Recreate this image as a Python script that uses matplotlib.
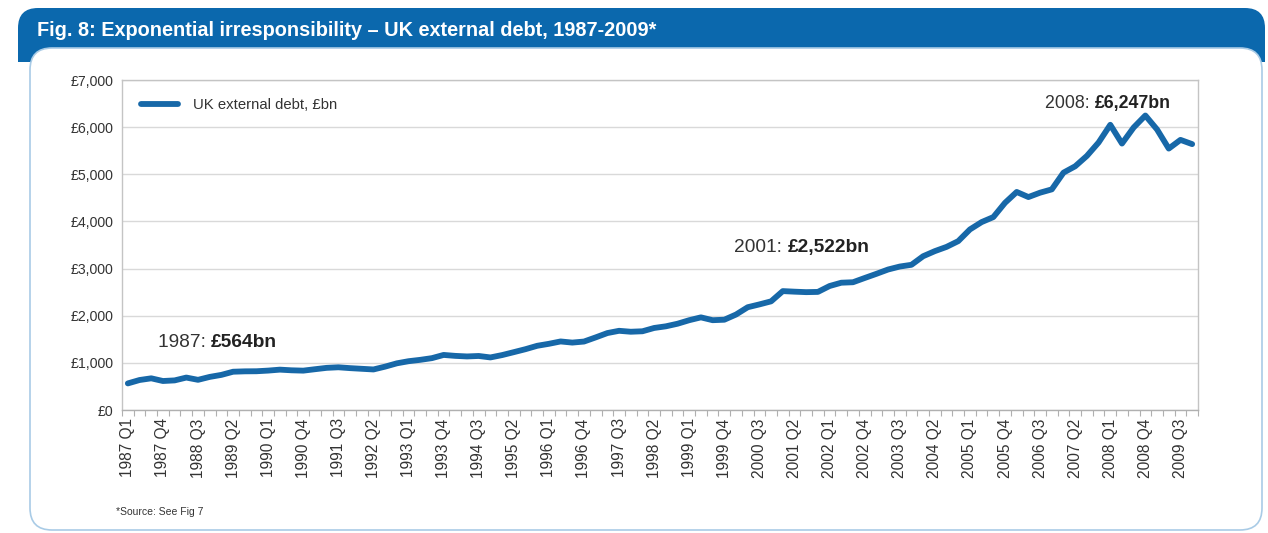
import matplotlib
matplotlib.use("Agg")
import matplotlib.pyplot as plt
from matplotlib.patches import FancyBboxPatch, Rectangle
import matplotlib.ticker as mticker

# Quarterly UK external debt, £bn, 1987 Q1 - 2009 Q4
years = list(range(1987, 2010))
quarters = [f"{y} Q{q}" for y in years for q in range(1, 5)]
debt = [
    564, 636, 672, 615, 628, 688, 640, 702, 745, 812,
    820, 822, 836, 856, 842, 835, 865, 894, 906, 888,
    874, 860, 920, 990, 1035, 1064, 1100, 1168, 1148, 1136,
    1146, 1115, 1165, 1227, 1290, 1362, 1404, 1454, 1430, 1452,
    1540, 1632, 1680, 1660, 1670, 1740, 1775, 1830, 1905, 1965,
    1905, 1915, 2025, 2180, 2240, 2305, 2522, 2510, 2500, 2505,
    2630, 2700, 2710, 2800, 2888, 2980, 3043, 3080, 3262, 3370,
    3460, 3582, 3830, 3986, 4092, 4395, 4625, 4517, 4610, 4680,
    5035, 5170, 5390, 5674, 6050, 5652, 5993, 6247, 5950, 5545,
    5730, 5640,
]
y_ticks = [0, 1000, 2000, 3000, 4000, 5000, 6000, 7000]
callouts = [("1987: ", "£564bn", 0), ("2001: ", "£2,522bn", 56), ("2008: ", "£6,247bn", 87)]
callout_pos = [(7.1, 1430, 13.8), (56.4, 3450, 13.8), (82.65, 6510, 12.8)]

title = "Fig. 8: Exponential irresponsibility \u2013 UK external debt, 1987-2009*"
series_name = "UK external debt, £bn"
source_note = "*Source: See Fig 7"

BLUE = "#0b68ad"
LINE = "#1768a8"
TEXT = "#333333"
GRID = "#d9d9d9"
FONT = ["Liberation Sans", "DejaVu Sans"]

W, H = 1268, 533
fig = plt.figure(figsize=(W / 100, H / 100), dpi=100)
fig.patch.set_facecolor("white")

# Frame: blue title bar and rounded white panel, in pixel units
bg = fig.add_axes([0, 0, 1, 1], zorder=0)
bg.set_xlim(0, W)
bg.set_ylim(H, 0)
bg.axis("off")
bg.add_patch(FancyBboxPatch((18, 8), 1247, 54, boxstyle="round,pad=0,rounding_size=20",
                            facecolor=BLUE, edgecolor="none"))
bg.add_patch(Rectangle((18, 35), 1247, 27, facecolor=BLUE, edgecolor="none"))
bg.add_patch(FancyBboxPatch((30, 48), 1232, 482, boxstyle="round,pad=0,rounding_size=22",
                            facecolor="white", edgecolor="#a9cbe6", linewidth=1.2))
bg.text(37, 30, title, color="white", fontsize=14.3, fontweight="bold",
        family=FONT, va="center", ha="left")
bg.text(116, 512, source_note, color=TEXT, fontsize=7.5, family=FONT,
        va="center", ha="left")

# Chart
left, right, top, bottom = 122, 1198, 80, 410
ax = fig.add_axes([left / W, 1 - bottom / H, (right - left) / W, (bottom - top) / H], zorder=1)
ax.set_facecolor("white")
x = list(range(len(debt)))
ax.plot(x, debt, color=LINE, linewidth=4.2, solid_joinstyle="round",
        solid_capstyle="round", label=series_name, zorder=3)

ax.set_xlim(-0.5, len(debt) - 0.5)
ax.set_ylim(0, 7000)
ax.set_yticks(y_ticks)
ax.yaxis.set_major_formatter(mticker.FuncFormatter(lambda v, p: f"£{int(v):,}"))
ax.grid(axis="y", color=GRID, linewidth=1.0, zorder=0)
ax.tick_params(axis="y", length=0, pad=6, labelsize=10.2, labelcolor=TEXT)
for lbl in ax.get_yticklabels():
    lbl.set_family(FONT)

major = list(range(0, len(debt), 3))
ax.set_xticks(major)
ax.set_xticklabels([quarters[i] for i in major], rotation=90, family=FONT,
                   fontsize=11.2, color=TEXT)
ax.set_xticks([i - 0.5 for i in range(len(debt) + 1)], minor=True)
ax.tick_params(axis="x", which="major", length=0, pad=6)
ax.tick_params(axis="x", which="minor", length=4, width=0.8, color="#b0b0b0", direction="out")

for s in ax.spines.values():
    s.set_color("#c4c4c4")
    s.set_linewidth(1.0)
ax.spines["bottom"].set_color("#b0b0b0")

leg = ax.legend(loc="upper left", bbox_to_anchor=(0.005, 0.985), frameon=False,
                handlelength=2.5, handletextpad=1.0,
                prop={"family": FONT, "size": 10.7})
for t in leg.get_texts():
    t.set_color(TEXT)

for (plain, bold, _), (px, py, fs) in zip(callouts, callout_pos):
    ax.text(px, py, plain, ha="right", va="center", fontsize=fs, family=FONT, color=TEXT)
    ax.text(px, py, bold, ha="left", va="center", fontsize=fs, family=FONT,
            fontweight="bold", color="#222222")

fig.savefig("out.png", dpi=100, facecolor="white")
